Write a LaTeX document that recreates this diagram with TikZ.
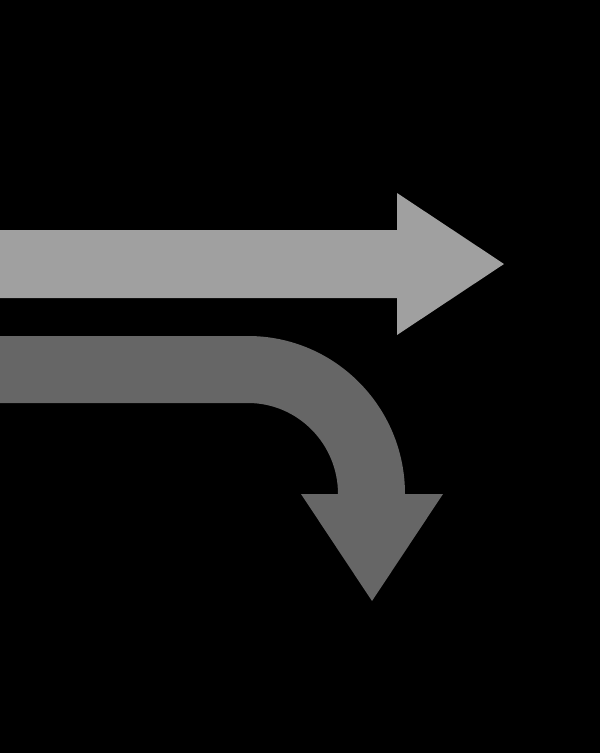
\documentclass[tikz,border=0pt]{standalone}
\begin{document}
\begin{tikzpicture}[x=1pt,y=-1pt]
\definecolor{lightarrow}{HTML}{A0A0A0}
\definecolor{darkarrow}{HTML}{666666}
\fill[black] (0,0) rectangle (600,753);
\useasboundingbox (0,0) rectangle (600,753);
% straight arrow
\fill[lightarrow] (0,230) -- (397,230) -- (397,193) -- (504,264) -- (397,335) -- (397,298) -- (0,298) -- cycle;
% curved arrow
\fill[darkarrow] (0,336) -- (248,336) arc[start angle=90,end angle=0,x radius=157,y radius=-158]
  -- (443,494) -- (372,601) -- (301,494) -- (338,494)
  arc[start angle=0,end angle=90,x radius=90,y radius=-91] -- (0,403) -- cycle;
\end{tikzpicture}
\end{document}
